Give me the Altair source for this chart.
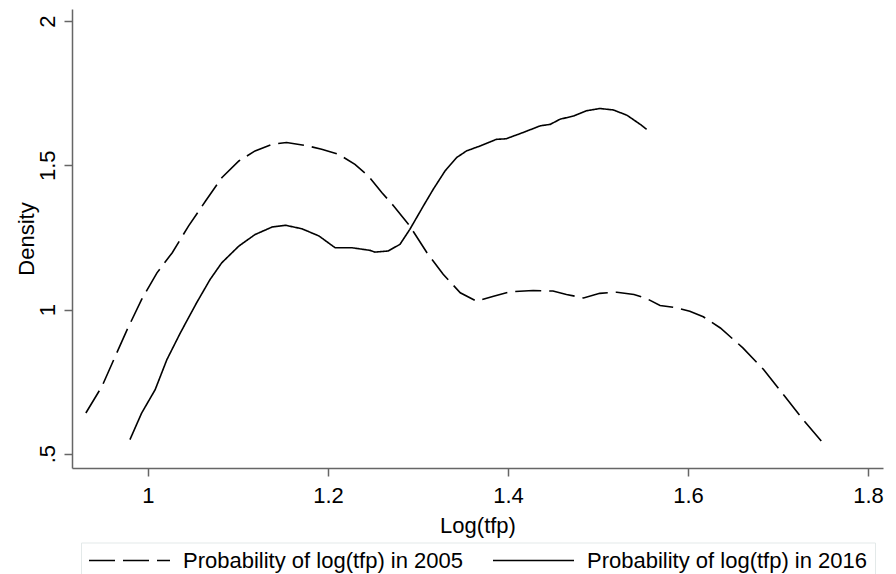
import altair as alt
import pandas as pd

FONT = "Liberation Sans"

s2005_name = "Probability of log(tfp) in 2005"
s2016_name = "Probability of log(tfp) in 2016"

x2005 = [0.931, 0.949, 0.962, 0.977, 0.993, 1.010, 1.027, 1.045, 1.064, 1.082,
         1.101, 1.119, 1.138, 1.154, 1.175, 1.193, 1.212, 1.230, 1.245, 1.260,
         1.273, 1.291, 1.310, 1.328, 1.347, 1.365, 1.384, 1.402, 1.428, 1.450,
         1.465, 1.484, 1.502, 1.521, 1.540, 1.554, 1.569, 1.587, 1.602, 1.617,
         1.636, 1.661, 1.684, 1.706, 1.728, 1.750]
y2005 = [0.641, 0.734, 0.826, 0.931, 1.035, 1.127, 1.197, 1.289, 1.376, 1.457,
         1.515, 1.550, 1.573, 1.579, 1.569, 1.556, 1.538, 1.503, 1.463, 1.405,
         1.359, 1.289, 1.197, 1.122, 1.058, 1.029, 1.046, 1.061, 1.066, 1.064,
         1.052, 1.040, 1.056, 1.060, 1.052, 1.038, 1.014, 1.006, 0.994, 0.975,
         0.936, 0.867, 0.792, 0.705, 0.618, 0.537]

x2016 = [0.980, 0.993, 1.008, 1.021, 1.036, 1.054, 1.069, 1.082, 1.101, 1.119,
         1.138, 1.153, 1.171, 1.190, 1.208, 1.227, 1.247, 1.252, 1.267, 1.280,
         1.291, 1.306, 1.317, 1.330, 1.343, 1.354, 1.369, 1.387, 1.398, 1.417,
         1.436, 1.447, 1.458, 1.473, 1.487, 1.502, 1.517, 1.532, 1.547, 1.554]
y2016 = [0.549, 0.641, 0.722, 0.826, 0.919, 1.023, 1.104, 1.162, 1.220, 1.260,
         1.286, 1.292, 1.280, 1.255, 1.214, 1.214, 1.205, 1.199, 1.203, 1.226,
         1.278, 1.359, 1.417, 1.480, 1.527, 1.550, 1.567, 1.590, 1.592, 1.614,
         1.637, 1.642, 1.660, 1.671, 1.689, 1.697, 1.692, 1.674, 1.642, 1.625]

x_ticks = [1, 1.2, 1.4, 1.6, 1.8]
y_ticks = [0.5, 1, 1.5, 2]

df = pd.concat([
    pd.DataFrame({"x": x2005, "y": y2005, "series": s2005_name}),
    pd.DataFrame({"x": x2016, "y": y2016, "series": s2016_name}),
], ignore_index=True)

chart = alt.Chart(df).mark_line(strokeWidth=1.6, color="black").encode(
    x=alt.X("x:Q",
            scale=alt.Scale(domain=[0.9156, 1.8167], nice=False, zero=False),
            axis=alt.Axis(values=x_ticks, format="~g", title="Log(tfp)",
                          grid=False, tickSize=8, labelPadding=9,
                          titleBaseline="alphabetic", titleY=64,
                          titleFontWeight="normal")),
    y=alt.Y("y:Q",
            scale=alt.Scale(domain=[0.4504, 2.042], nice=False, zero=False),
            axis=alt.Axis(values=y_ticks, title="Density", grid=False,
                          labelExpr="datum.value == 0.5 ? '.5' : toString(datum.value)",
                          labelAngle=270, labelAlign="center", labelBaseline="alphabetic",
                          tickSize=8, labelPadding=10,
                          titleBaseline="alphabetic", titleX=-39, titleY=229.5,
                          titleFontWeight="normal")),
    strokeDash=alt.StrokeDash(
        "series:N",
        scale=alt.Scale(domain=[s2005_name, s2016_name], range=[[26, 8], [1, 0]]),
        legend=alt.Legend(orient="none", legendX=9, legendY=533.5,
                          direction="horizontal", columns=2, title=None,
                          symbolType="M-1,0H7.1", symbolSize=400,
                          symbolStrokeWidth=1.6, symbolStrokeColor="black",
                          symbolFillColor="transparent",
                          labelFont=FONT, labelFontSize=22, labelColor="black",
                          labelOffset=73, columnPadding=25, padding=7,
                          strokeColor="#e3e9e9", fillColor="white",
                          cornerRadius=0, labelLimit=0),
    ),
).properties(
    width=811,
    height=459,
    autosize=alt.AutoSizeParams(type="none"),
    padding={"left": 64, "top": 1, "right": 5, "bottom": 106},
    background="white",
).configure_view(
    stroke=None
).configure_axis(
    domainColor="#666666", domainWidth=1.5, tickColor="#666666", tickWidth=1.5,
    labelFont=FONT, labelFontSize=22, labelColor="black",
    titleFont=FONT, titleFontSize=22, titleColor="black",
)

chart.save("out.html", embed_options={"renderer": "svg", "actions": False})
